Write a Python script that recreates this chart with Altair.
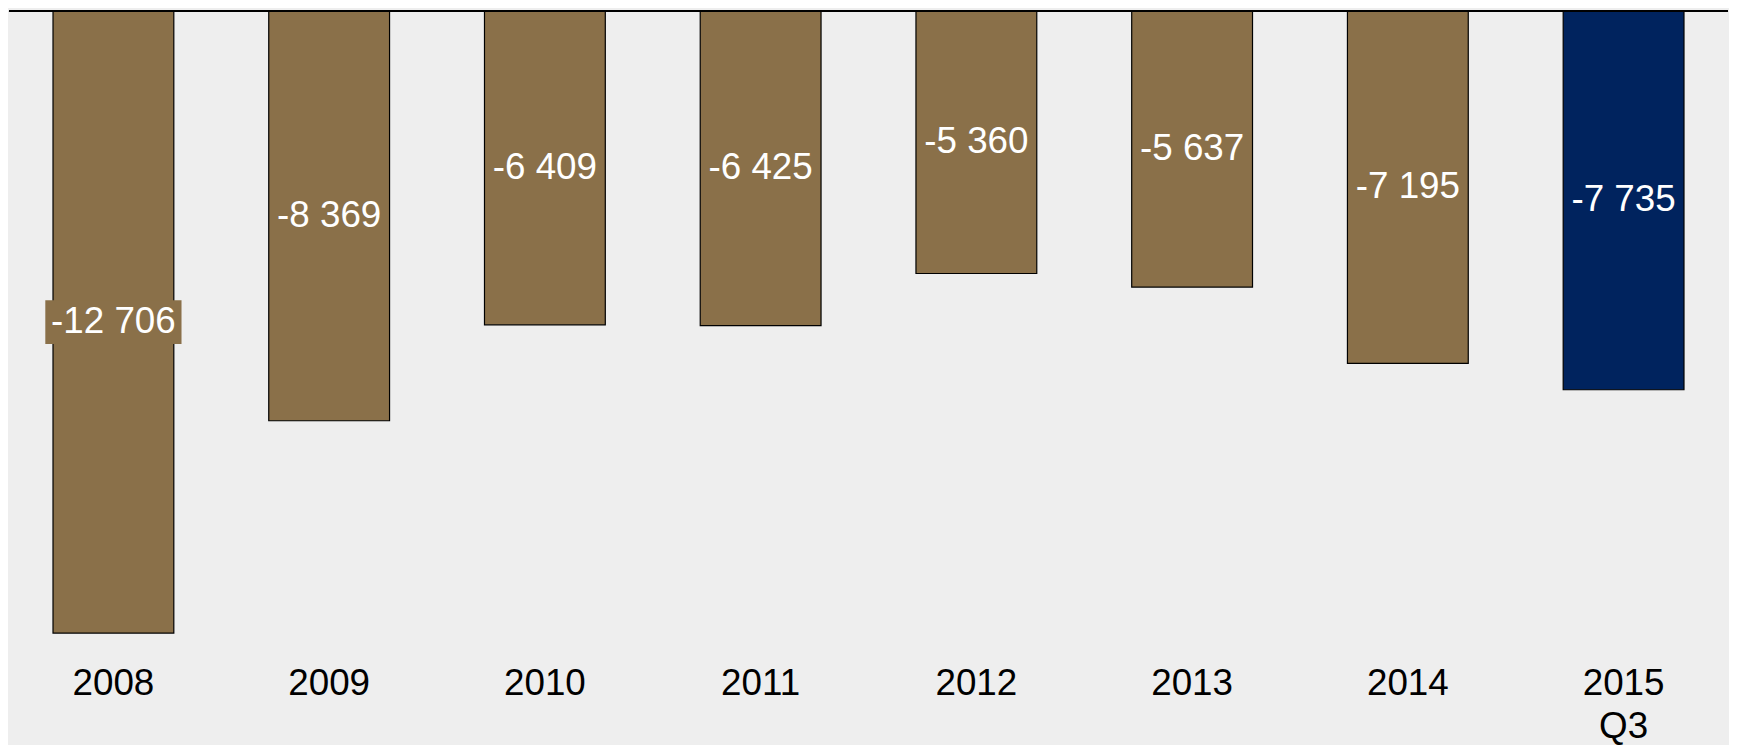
import altair as alt
import pandas as pd

categories = ["2008", "2009", "2010", "2011", "2012", "2013", "2014", "2015 Q3"]
values = [-12706, -8369, -6409, -6425, -5360, -5637, -7195, -7735]
highlight = [False, False, False, False, False, False, False, True]

labels = [f"{v:,}".replace(",", " ") for v in values]

df = pd.DataFrame({
    "cat": categories,
    "value": values,
    "label": labels,
    "hl": ["yes" if h else "no" for h in highlight],
})

BROWN = "#8A7049"
NAVY = "#00235E"

x = alt.X("cat:N", sort=categories, title=None,
          scale=alt.Scale(paddingInner=0.44, paddingOuter=0.204),
          axis=alt.Axis(labelExpr="split(datum.label, ' ')", labelAngle=0,
                        ticks=False, domain=False, labelFontSize=37,
                        labelFont="Liberation Sans", labelColor="black",
                        labelPadding=18, labelLineHeight=44, grid=False))
yscale = alt.Scale(domain=[-13000, 0], nice=False)

base = alt.Chart(df)

bars = base.mark_bar(stroke="black", strokeWidth=1.2).encode(
    x=x,
    y=alt.Y("value:Q", scale=yscale, axis=None),
    y2=alt.datum(0),
    color=alt.Color("hl:N", scale=alt.Scale(domain=["no", "yes"], range=[BROWN, NAVY]), legend=None),
)

boxes = base.transform_filter("datum.value < -10000").transform_calculate(
    mid="datum.value / 2"
).mark_point(
    shape="M-1,-0.32L1,-0.32L1,0.32L-1,0.32Z", size=18769, filled=True, opacity=1
).encode(
    x=x,
    y=alt.Y("mid:Q", scale=yscale, axis=None),
    color=alt.Color("hl:N", scale=alt.Scale(domain=["no", "yes"], range=[BROWN, NAVY]), legend=None),
)

text = base.transform_calculate(mid="datum.value / 2").mark_text(
    color="white", fontSize=37, font="Liberation Sans", baseline="middle", align="center"
).encode(
    x=x,
    y=alt.Y("mid:Q", scale=yscale, axis=None),
    text="label:N",
)

zero = base.mark_rule(color="black", strokeWidth=2).encode(y=alt.datum(0))

chart = alt.layer(bars, boxes, text, zero).properties(
    width=1729, height=640, background="#EEEEEE", padding=0
).configure_view(stroke=None, fill="#EEEEEE")

chart.save("out.html", embed_options={"renderer": "svg", "actions": False})
